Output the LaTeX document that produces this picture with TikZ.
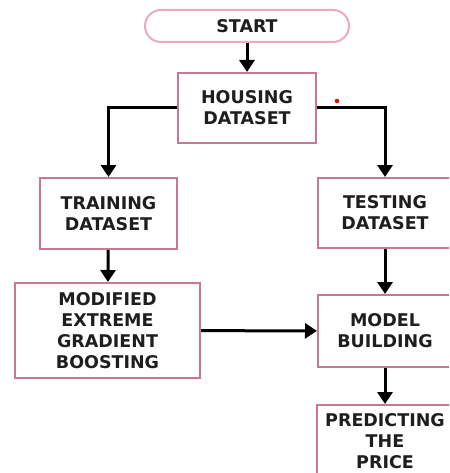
\documentclass[tikz,border=0pt]{standalone}
\usepackage{fontspec}
\setmainfont{DejaVu Sans}
\usetikzlibrary{arrows.meta}
\definecolor{boxpink}{RGB}{200,120,150}
\definecolor{startpink}{RGB}{236,170,192}
\definecolor{inkgrey}{RGB}{30,30,30}
\begin{document}
\begin{tikzpicture}[x=1pt, y=-1pt,
    box/.style={draw=boxpink, line width=2pt, fill=white, align=center,
      inner sep=0pt, text=inkgrey,
      font=\fontsize{17.5}{20.8}\selectfont\bfseries},
    flow/.style={line width=3pt, -{Triangle[width=15pt,length=12pt]}}]
      \clip (0,0) rectangle (449,473);          % page
      %
      \node[box, draw=startpink, rounded corners=16pt,
        minimum width=204pt, minimum height=32pt] (start) at (247,26) {START};
      \node[box, minimum width=138pt, minimum height=70pt]
        (housing) at (247,108) {HOUSING\\DATASET};
      %
      \node[box, minimum width=137pt, minimum height=71pt]
        (training) at (108.5,213.5) {TRAINING\\DATASET};   % left column
      \node[box, minimum width=185pt, minimum height=95pt]
        (modified) at (107.5,330.5) {MODIFIED\\EXTREME\\GRADIENT\\BOOSTING};
      %%
      \node[box, minimum width=134pt, minimum height=70pt]
        (testing) at (385,213) {TESTING\\DATASET};          % right column
      \node[box, minimum width=134pt, minimum height=72pt]
        (model) at (385,331) {MODEL\\BUILDING};
      \node[box, minimum width=136pt, minimum height=72pt]
        (predicting) at (385,441) {PREDICTING\\THE\\PRICE};
      %
      \draw[flow] (start) -- (housing);
      \draw[flow] (housing.west) -| (training.north);
      \draw[flow] (housing.east) -| (testing.north);
      \draw[flow] (training) -- (modified);
      \draw[flow] (modified) -- (model);
      \draw[flow] (testing) -- (model);
      \draw[flow] (model) -- (predicting);
      %
      \fill[red] (337,101) circle (2.3);         % dot
      %
    \end{tikzpicture}
\end{document}
